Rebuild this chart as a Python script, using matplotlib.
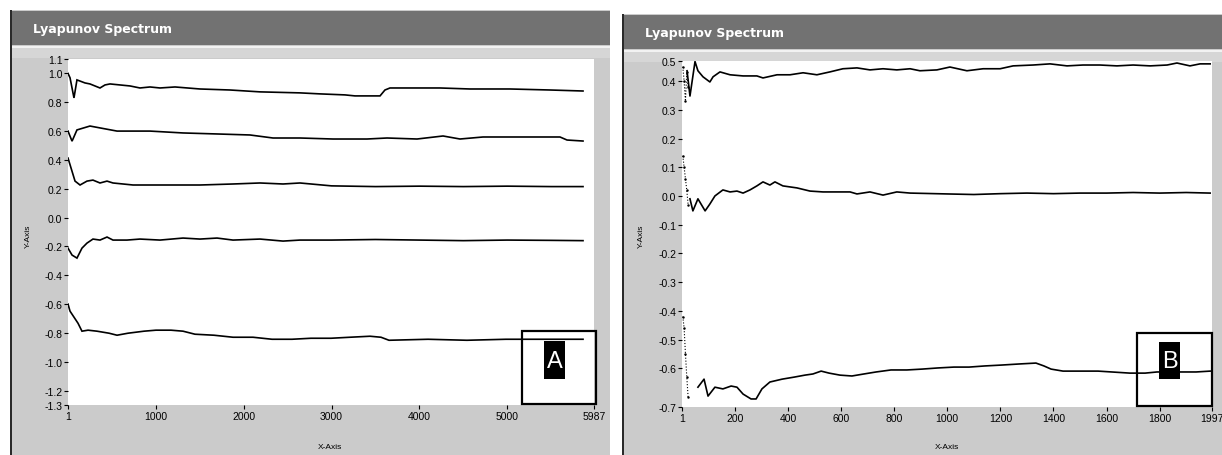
import matplotlib
matplotlib.use("Agg")
import matplotlib.pyplot as plt
from matplotlib.patches import Rectangle

# ---------------- data: panel A (Lyapunov spectrum, 5 exponents) ----------------
a1_x = [1, 24, 69, 103, 194, 251, 308, 365, 422, 479, 593, 707, 820, 934, 1048, 1219,
        1503, 1845, 2186, 2641, 2869, 3153, 3267, 3552, 3608, 3665, 3893, 4234, 4576,
        5031, 5486, 5862]
a1_y = [1.00, 0.97, 0.83, 0.955, 0.934, 0.927, 0.913, 0.899, 0.92, 0.927, 0.92, 0.913,
        0.899, 0.906, 0.899, 0.906, 0.892, 0.885, 0.872, 0.865, 0.858, 0.851, 0.844,
        0.844, 0.885, 0.899, 0.899, 0.899, 0.892, 0.892, 0.885, 0.878]

a2_x = [1, 47, 103, 251, 365, 559, 934, 1310, 1697, 2072, 2334, 2641, 3017, 3404, 3632,
        3973, 4269, 4462, 4724, 5110, 5600, 5680, 5862]
a2_y = [0.60, 0.53, 0.608, 0.635, 0.622, 0.60, 0.60, 0.587, 0.58, 0.573, 0.552, 0.552,
        0.545, 0.545, 0.552, 0.545, 0.566, 0.545, 0.559, 0.559, 0.559, 0.538, 0.531]

a3_x = [1, 81, 138, 217, 285, 365, 445, 513, 741, 934, 1128, 1503, 1879, 2186, 2448,
        2641, 3000, 3500, 4000, 4500, 5000, 5500, 5862]
a3_y = [0.413, 0.253, 0.226, 0.253, 0.26, 0.24, 0.253, 0.24, 0.226, 0.226, 0.226, 0.226,
        0.233, 0.24, 0.233, 0.24, 0.22, 0.215, 0.218, 0.215, 0.218, 0.215, 0.215]

a4_x = [1, 47, 103, 160, 217, 285, 365, 445, 513, 672, 820, 1048, 1310, 1503, 1697,
        1879, 2186, 2448, 2641, 3000, 3500, 4000, 4500, 5000, 5500, 5862]
a4_y = [-0.212, -0.26, -0.281, -0.212, -0.177, -0.149, -0.156, -0.135, -0.156, -0.156,
        -0.149, -0.156, -0.142, -0.149, -0.142, -0.156, -0.149, -0.163, -0.156, -0.156,
        -0.152, -0.156, -0.16, -0.156, -0.158, -0.16]

a5_x = [1, 24, 115, 160, 229, 331, 468, 559, 684, 866, 1002, 1173, 1310, 1446, 1662,
        1879, 2106, 2323, 2550, 2766, 2994, 3210, 3438, 3563, 3654, 4098, 4541, 4985,
        5429, 5862]
a5_y = [-0.60, -0.649, -0.733, -0.788, -0.781, -0.788, -0.802, -0.816, -0.802, -0.788,
        -0.781, -0.781, -0.788, -0.809, -0.816, -0.83, -0.83, -0.844, -0.844, -0.837,
        -0.837, -0.83, -0.823, -0.83, -0.851, -0.844, -0.851, -0.844, -0.844, -0.844]

# ---------------- data: panel B (3 exponents) ----------------
b1_x = [20, 31, 50, 61, 80, 106, 118, 144, 182, 231, 283, 306, 359, 408, 457, 509, 558,
        607, 660, 709, 758, 810, 860, 897, 961, 1010, 1074, 1135, 1199, 1248, 1323, 1387,
        1451, 1511, 1575, 1639, 1700, 1764, 1828, 1865, 1914, 1952, 1990]
b1_y = [0.436, 0.348, 0.468, 0.436, 0.415, 0.397, 0.415, 0.432, 0.422, 0.418, 0.418,
        0.411, 0.422, 0.422, 0.429, 0.422, 0.432, 0.443, 0.446, 0.439, 0.443, 0.439,
        0.443, 0.436, 0.439, 0.449, 0.436, 0.443, 0.443, 0.453, 0.456, 0.460, 0.453,
        0.456, 0.456, 0.453, 0.456, 0.453, 0.456, 0.463, 0.453, 0.460, 0.460]

b2_x = [31, 42, 61, 88, 106, 125, 155, 182, 208, 231, 257, 283, 306, 332, 351, 381, 434,
        483, 532, 585, 634, 660, 709, 758, 810, 860, 1000, 1100, 1200, 1300, 1400, 1500,
        1600, 1700, 1800, 1900, 1990]
b2_y = [-0.010, -0.052, -0.010, -0.052, -0.028, 0.0, 0.021, 0.014, 0.017, 0.010, 0.021,
        0.035, 0.049, 0.038, 0.049, 0.035, 0.028, 0.017, 0.014, 0.014, 0.014, 0.007,
        0.014, 0.003, 0.014, 0.010, 0.007, 0.005, 0.008, 0.010, 0.008, 0.010, 0.010,
        0.012, 0.010, 0.012, 0.010]

b3_x = [61, 84, 99, 125, 155, 186, 208, 231, 261, 280, 302, 332, 378, 423, 464, 494, 525,
        555, 596, 641, 686, 732, 788, 848, 905, 965, 1025, 1082, 1142, 1203, 1274, 1334,
        1364, 1391, 1436, 1568, 1688, 1745, 1790, 1937, 1990]
b3_y = [-0.666, -0.638, -0.697, -0.666, -0.672, -0.662, -0.666, -0.690, -0.707, -0.707,
        -0.672, -0.648, -0.638, -0.631, -0.624, -0.620, -0.610, -0.617, -0.624, -0.627,
        -0.620, -0.613, -0.606, -0.606, -0.603, -0.599, -0.596, -0.596, -0.592, -0.589,
        -0.585, -0.582, -0.592, -0.603, -0.610, -0.610, -0.617, -0.617, -0.613, -0.613,
        -0.610]

# early transient dots in panel B
bt_x = [4, 9, 14, 19, 24]
b1_t = [0.45, 0.40, 0.33, 0.43, 0.38]
b2_t = [0.14, 0.10, 0.06, 0.02, -0.03]
b3_t = [-0.42, -0.46, -0.55, -0.63, -0.70]

# ---------------- axis ticks ----------------
a_xticks = [1, 1000, 2000, 3000, 4000, 5000, 5987]
a_xlabels = ["1", "1000", "2000", "3000", "4000", "5000", "5987"]
a_yticks = [1.1, 1.0, 0.8, 0.6, 0.4, 0.2, 0.0, -0.2, -0.4, -0.6, -0.8, -1.0, -1.2, -1.3]
a_ylabels = ["1.1", "1.0", "0.8", "0.6", "0.4", "0.2", "0.0", "-0.2", "-0.4", "-0.6",
             "-0.8", "-1.0", "-1.2", "-1.3"]
b_xticks = [1, 200, 400, 600, 800, 1000, 1200, 1400, 1600, 1800, 1997]
b_xlabels = ["1", "200", "400", "600", "800", "1000", "1200", "1400", "1600", "1800", "1997"]
b_yticks = [0.47, 0.4, 0.3, 0.2, 0.1, 0.0, -0.1, -0.2, -0.3, -0.4, -0.5, -0.6, -0.735]
b_ylabels = ["0.5", "0.4", "0.3", "0.2", "0.1", "0.0", "-0.1", "-0.2", "-0.3", "-0.4",
             "-0.5", "-0.6", "-0.7"]

title_text = "Lyapunov Spectrum"

# ---------------- figure ----------------
W, H = 1222, 456
fig = plt.figure(figsize=(W / 100, H / 100), dpi=100)
fig.patch.set_facecolor("white")

TICKFONT = ["Liberation Sans", "DejaVu Sans"]


def fbox(x0, y0, x1, y1):
    return [x0 / W, 1 - y1 / H, (x1 - x0) / W, (y1 - y0) / H]


def frect(x0, y0, x1, y1, **kw):
    r = Rectangle((x0 / W, 1 - y1 / H), (x1 - x0) / W, (y1 - y0) / H,
                  transform=fig.transFigure, **kw)
    fig.add_artist(r)
    return r


def ftext(x, y, s, **kw):
    return fig.text(x / W, 1 - y / H, s, **kw)


def panel(px0, py0, px1, py1, title_x, title_y):
    frect(px0, py0, px1, py1, facecolor="#cbcbcb", edgecolor="none", zorder=0)
    frect(px0 + 1, py0 + 1, px1, py0 + 35, facecolor="#727272", edgecolor="none", zorder=0)
    frect(px0 + 1, py0 + 36, px1, py0 + 48, facecolor="#d6d6d6", edgecolor="none", zorder=0)
    frect(px0 + 1, py0 + 36, px1, py0 + 38, facecolor="#f2f2f2", edgecolor="none", zorder=0)
    frect(px0, py0, px0 + 2, py1, facecolor="#2a2a2a", edgecolor="none", zorder=1)
    ftext(title_x, title_y, title_text, color="white", fontsize=9, fontweight="bold",
          ha="left", va="center")


panel(10, 11, 610, 456, 33, 30)
panel(622, 15, 1222, 456, 645, 34)


def style_axes(ax, xlim, ylim, xt, xl, yt, yl):
    ax.set_xlim(*xlim)
    ax.set_ylim(*ylim)
    ax.set_facecolor("white")
    for s in ax.spines.values():
        s.set_visible(False)
    ax.set_xticks(xt)
    ax.set_xticklabels(xl, fontfamily=TICKFONT)
    ax.set_yticks(yt)
    ax.set_yticklabels(yl, fontfamily=TICKFONT)
    ax.tick_params(axis="both", direction="out", length=3, width=0.8, pad=1,
                   labelsize=7.5, colors="black")


# ---- panel A axes ----
axA = fig.add_axes(fbox(68, 60, 594, 406))
style_axes(axA, (1, 5987), (-1.3, 1.1), a_xticks, a_xlabels, a_yticks, a_ylabels)
for xs, ys in [(a1_x, a1_y), (a2_x, a2_y), (a3_x, a3_y), (a4_x, a4_y), (a5_x, a5_y)]:
    axA.plot(xs, ys, color="black", lw=1.2, solid_joinstyle="miter")

# ---- panel B axes ----
axB = fig.add_axes(fbox(682, 62, 1212, 408))
style_axes(axB, (1, 1997), (-0.735, 0.47), b_xticks, b_xlabels, b_yticks, b_ylabels)
for xs, ys in [(b1_x, b1_y), (b2_x, b2_y), (b3_x, b3_y)]:
    axB.plot(xs, ys, color="black", lw=1.2)
for ys in [b1_t, b2_t, b3_t]:
    axB.plot(bt_x, ys, color="black", lw=0.8, ls=":", marker=".", ms=1.5)

# axis titles
ftext(330, 448, "X-Axis", fontsize=6, ha="center", va="center", fontfamily=TICKFONT)
ftext(947, 448, "X-Axis", fontsize=6, ha="center", va="center", fontfamily=TICKFONT)
ftext(28, 236, "Y-Axis", fontsize=6, ha="center", va="center", rotation=90,
      fontfamily=TICKFONT)
ftext(641, 236, "Y-Axis", fontsize=6, ha="center", va="center", rotation=90,
      fontfamily=TICKFONT)

# marker boxes A and B
for (bx0, by0, bx1, by1), (lx0, ly0, lx1, ly1), letter in [
        ((522, 332, 596, 405), (544, 342, 565, 380), "A"),
        ((1137, 334, 1212, 407), (1159, 343, 1180, 380), "B")]:
    frect(bx0, by0, bx1, by1, facecolor="none", edgecolor="black", lw=1.6, zorder=5)
    frect(lx0, ly0, lx1, ly1, facecolor="black", edgecolor="none", zorder=5)
    ftext((lx0 + lx1) / 2, (ly0 + ly1) / 2 + 1, letter, color="white", fontsize=17,
          ha="center", va="center", zorder=6, fontfamily=TICKFONT)

fig.savefig("out.png", dpi=100)
